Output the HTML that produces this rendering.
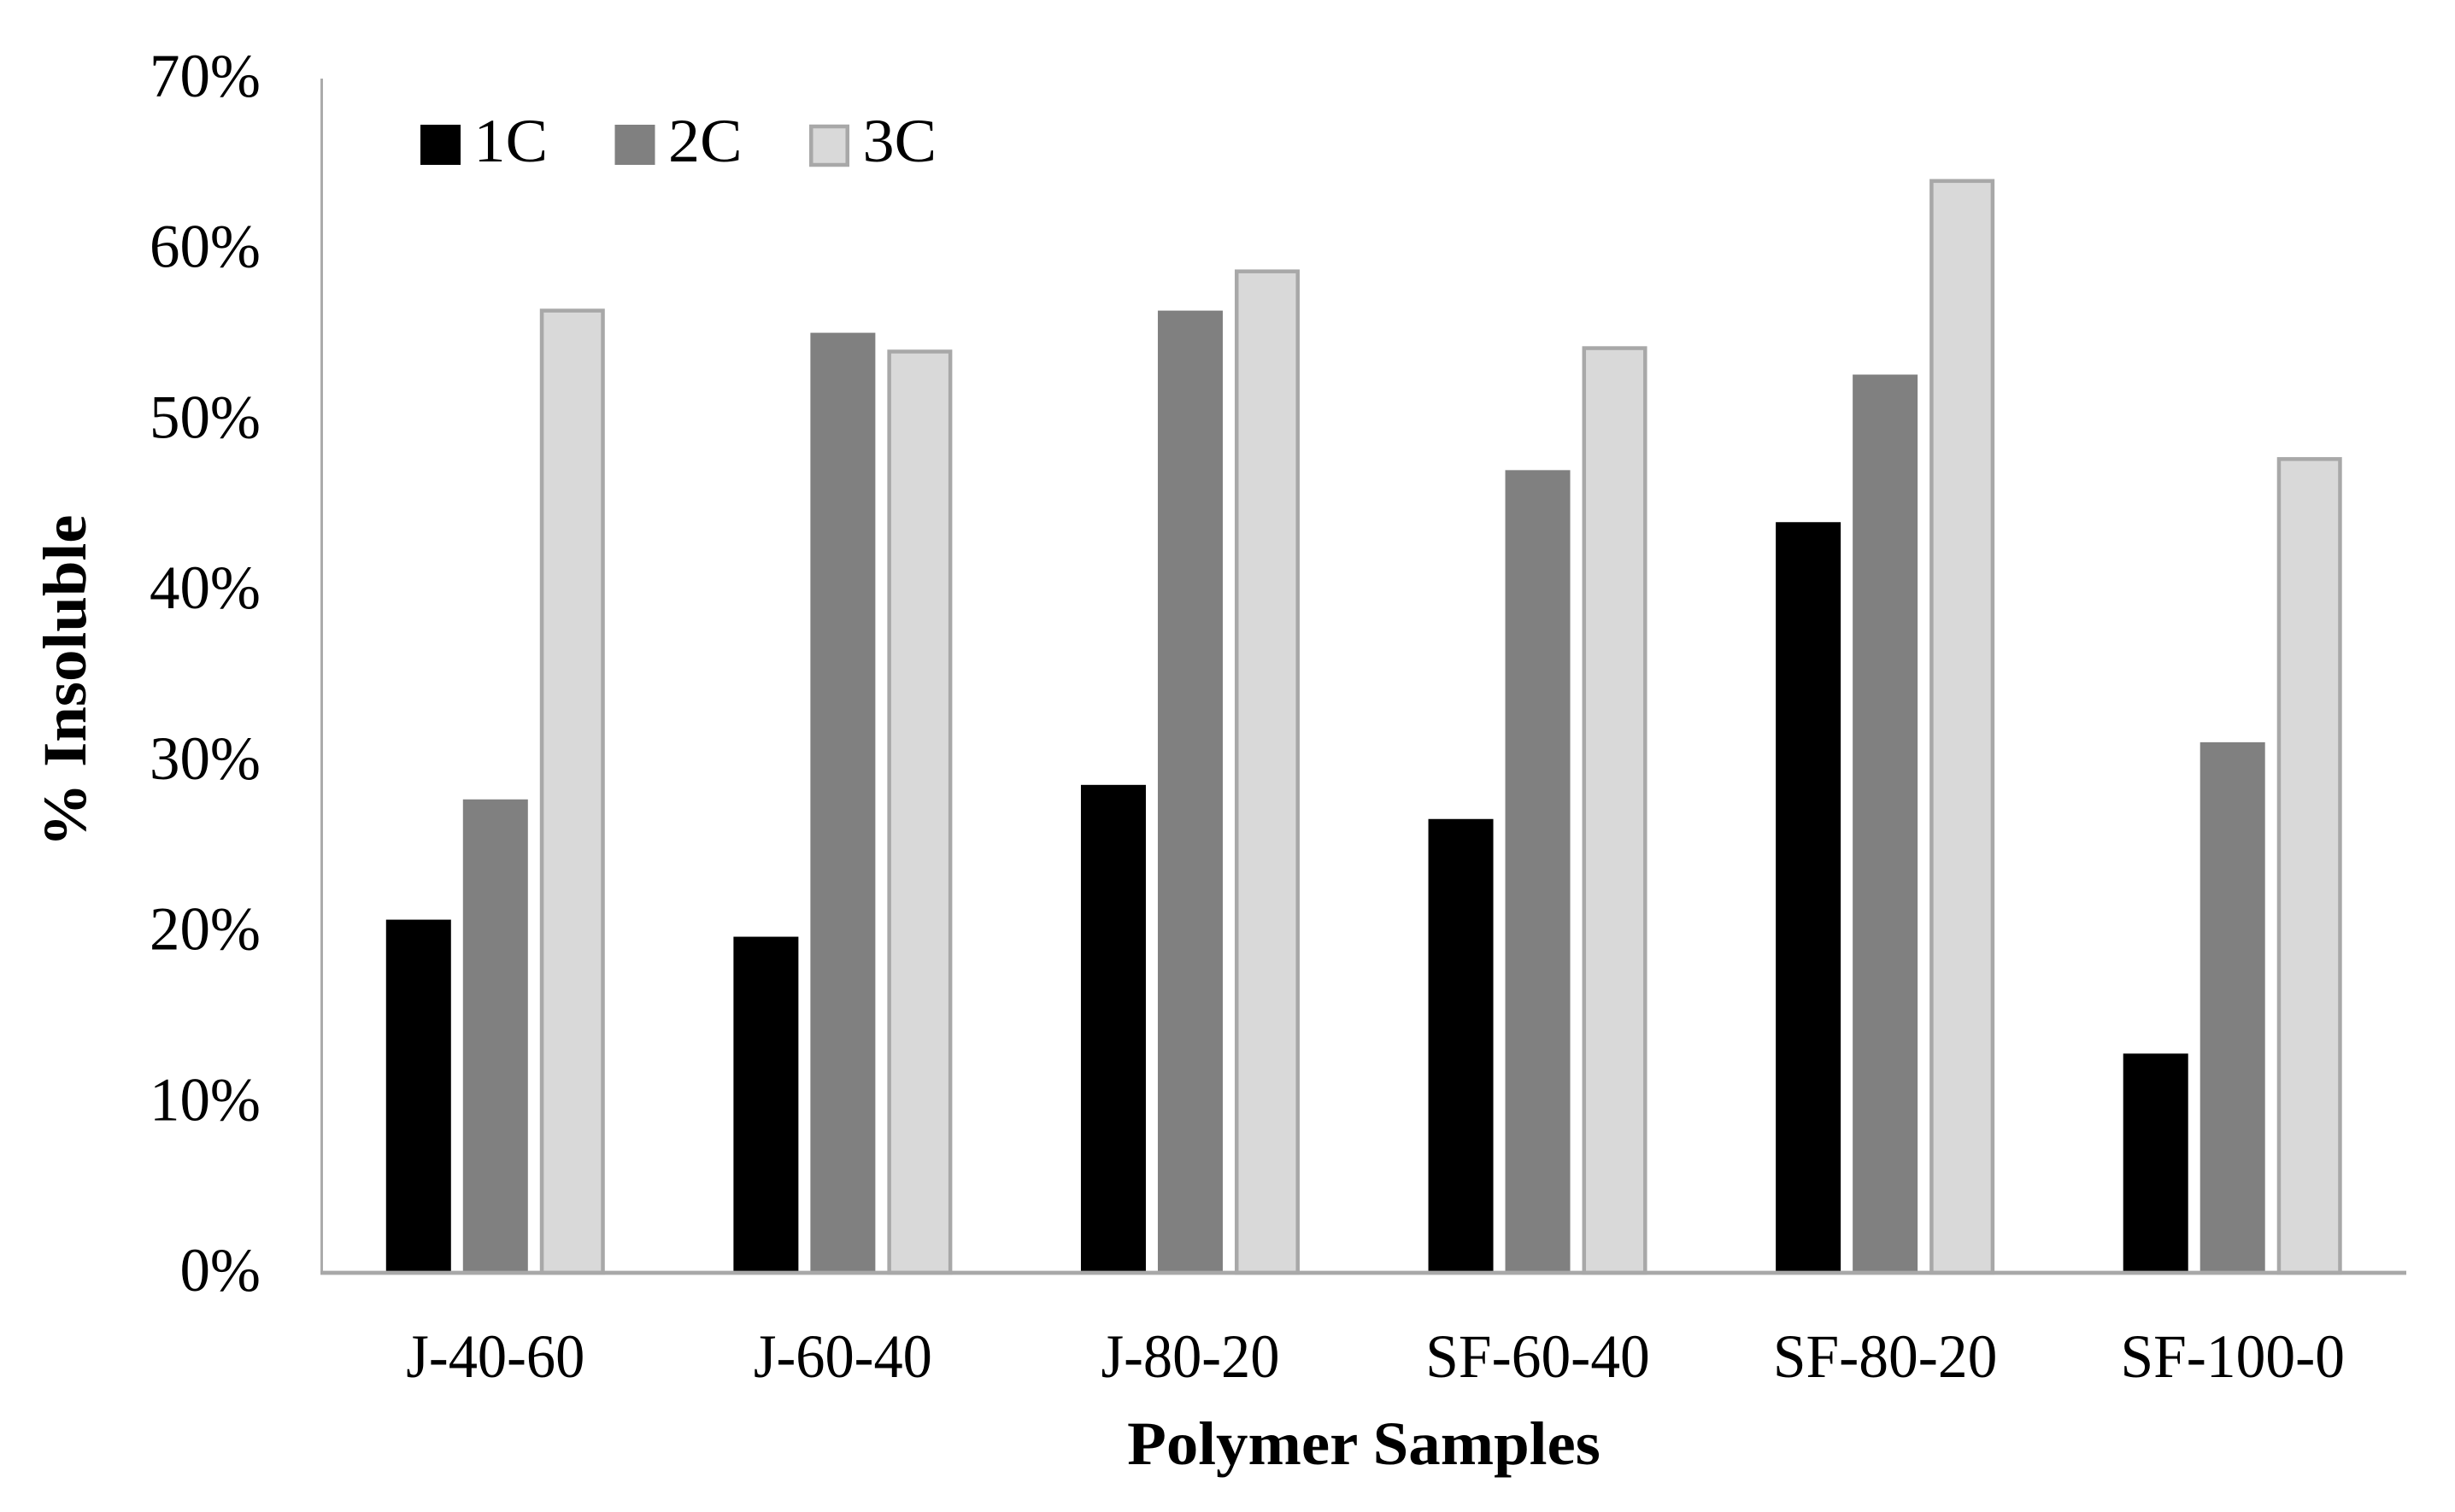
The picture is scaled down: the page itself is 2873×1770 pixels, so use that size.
<!DOCTYPE html>
<html>
<head>
<meta charset="utf-8">
<title>Polymer Samples Chart</title>
<style>
html,body{margin:0;padding:0;background:#fff;}
svg{display:block;}
text{font-family:"Liberation Serif",serif;fill:#000;}
</style>
</head>
<body>
<svg id="chart" xmlns="http://www.w3.org/2000/svg" width="2873" height="1770" viewBox="0 0 2873 1770">
<rect x="0" y="0" width="2873" height="1770" fill="#ffffff"/>
</svg>
<script>
const categories = ["J-40-60","J-60-40","J-80-20","SF-60-40","SF-80-20","SF-100-0"];
const seriesNames = ["1C","2C","3C"];
const values1C = [20.6,19.6,28.5,26.5,43.9,12.75];
const values2C = [27.65,55.0,56.3,46.95,52.55,31.0];
const values3C = [56.4,54.0,58.7,54.2,64.0,47.7];
const yTicks = [0,10,20,30,40,50,60,70];

const svg = document.getElementById('chart');
const NS = 'http://www.w3.org/2000/svg';
const plotLeft = 376.5, plotRight = 2816, yZero = 1490, yTop = 92, yMax = 70;
const band = (plotRight - plotLeft) / categories.length;
const barW = 76, barStep = 90;
const fontSize = 72;
const yScale = v => yZero - (v / yMax) * (yZero - yTop);
const xCenter = i => plotLeft + band * (i + 0.5);

function make(tag, attrs, text) {
  const el = document.createElementNS(NS, tag);
  for (const k in attrs) el.setAttribute(k, attrs[k]);
  if (text !== undefined) el.textContent = text;
  svg.appendChild(el);
  return el;
}
const styles = [
  {fill:'#000000', stroke:null},
  {fill:'#808080', stroke:null},
  {fill:'#d9d9d9', stroke:'#a8a8a8'}
];
const allSeries = [values1C, values2C, values3C];

function drawBar(x, top, bottom, w, style) {
  if (style.stroke) {
    return make('rect', {x:x+2.25, y:top, width:w-4.5, height:bottom-top, fill:style.fill, stroke:style.stroke, 'stroke-width':4.5});
  }
  return make('rect', {x:x, y:top-2, width:w, height:bottom-top+2, fill:style.fill});
}

allSeries.forEach((vals, s) => {
  vals.forEach((v, i) => {
    const cx = xCenter(i) + (s - 1) * barStep;
    const bar = drawBar(cx - barW / 2, yScale(v), yZero, barW, styles[s]);
    
    
  });
});

const yAxis = make('line', {x1:plotLeft, y1:yTop, x2:plotLeft, y2:yZero, stroke:'#ababab', 'stroke-width':3});


const xAxis = make('line', {x1:plotLeft-1.5, y1:yZero, x2:plotRight, y2:yZero, stroke:'#a8a8a8', 'stroke-width':4.7});



yTicks.forEach(t => {
  const lbl = make('text', {'text-anchor':'end', 'font-size':fontSize,
    transform:'translate(305,' + (yScale(t) + 21) + ') scale(0.985,1)'}, t + '%');
  
  
});

categories.forEach((c, i) => {
  const sx = c.startsWith('SF') ? 0.965 : 0.95;
  const lbl = make('text', {'text-anchor':'middle', 'font-size':fontSize,
    transform:'translate(' + xCenter(i) + ',1612) scale(' + sx + ',1)'}, c);
  
  
});

const xTitle = make('text', {'text-anchor':'middle', 'font-size':fontSize, 'font-weight':'bold',
  transform:'translate(1596,1714) scale(1.04,1)'}, 'Polymer Samples');



const yTitle = make('text', {'text-anchor':'middle', 'font-size':fontSize, 'font-weight':'bold',
  transform:'translate(100,797) rotate(-90) scale(1.04,1)'}, '% Insoluble');



seriesNames.forEach((n, s) => {
  const x = 492 + s * 227.5;
  const sw = drawBar(x, 148, 193, 47, styles[s]);
  
  
  const lbl = make('text', {'font-size':fontSize,
    transform:'translate(' + (x + 62.5) + ',189) scale(1.03,1)'}, n);
  
  
});
</script>
</body>
</html>
